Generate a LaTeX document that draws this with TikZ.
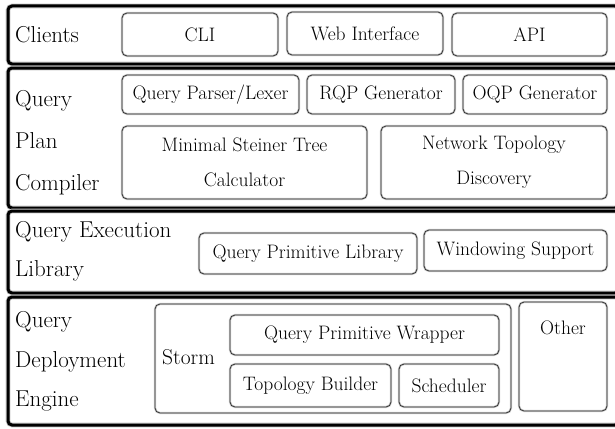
\documentclass[tikz,border=0pt]{standalone}
\begin{document}
\begin{tikzpicture}[x=1pt,y=-1pt,
  outer/.style={draw=black, line width=3pt, rounded corners=4pt, inner sep=0pt,
    preaction={draw=gray!45, line width=4.6pt}},
  ibox/.style={draw=black!80, line width=0.8pt, rounded corners=5pt, inner sep=0pt,
    align=center, font=\fontsize{19.5}{35}\selectfont,
    preaction={draw=gray!40, line width=2.2pt}},
  lab/.style={anchor=base west, inner sep=0pt, font=\fontsize{23}{41}\selectfont},
]
\newcommand\bx[7]{\node[#1, minimum width={(#5-#3)*1pt}, minimum height={(#6-#4)*1pt}] (#2) at ({(#3+#5)/2},{(#4+#6)/2}) {#7};}
\useasboundingbox (0,0) rectangle (615,428);
\clip (0,0) rectangle (615,428);
\fill[white] (0,0) rectangle (615,428);

% outer layers
\bx{outer}{clients}{8}{6}{619}{64}{}
\bx{outer}{qpc}{8}{68}{619}{208}{}
\bx{outer}{qel}{8}{211}{619}{293}{}
\bx{outer}{qde}{8}{297}{619}{425}{}

% labels
\node[lab] (lcl) at (15,43) {Clients};
\node[lab] (lq1) at (15,106) {Query};
\node[lab] (lq2) at (15,148) {Plan};
\node[lab] (lq3) at (15,190) {Compiler};
\node[lab] (le1) at (15,237) {Query Execution};
\node[lab] (le2) at (15,276) {Library};
\node[lab] (ld1) at (15,327) {Query};
\node[lab] (ld2) at (15,367) {Deployment};
\node[lab] (ld3) at (15,406) {Engine};

% clients
\bx{ibox}{cli}{122}{13}{278}{56}{CLI}
\bx{ibox}{web}{287}{12}{443}{55}{Web Interface}
\bx{ibox}{api}{452}{13}{607}{56}{API}

% query plan compiler
\bx{ibox}{qpl}{122}{75}{299}{114}{Query Parser/Lexer}
\bx{ibox}{rqp}{307}{75}{455}{114}{RQP Generator}
\bx{ibox}{oqp}{463}{75}{607}{114}{OQP Generator}
\bx{ibox}{mst}{122}{126}{367}{199}{Minimal Steiner Tree\\Calculator}
\bx{ibox}{ntd}{381}{126}{607}{199}{Network Topology\\Discovery}

% query execution library
\bx{ibox}{qplib}{199}{233}{417}{274}{Query Primitive Library}
\bx{ibox}{win}{424}{230}{607}{271}{Windowing Support}

% query deployment engine
\bx{ibox}{storm}{155}{304}{511}{413}{}
\node[lab, font=\fontsize{21.5}{24}\selectfont] (stormtxt) at (162,364) {Storm};
\bx{ibox}{qpw}{230}{315}{499}{355}{Query Primitive Wrapper}
\bx{ibox}{tb}{230}{364}{391}{407}{Topology Builder}
\bx{ibox}{sch}{399}{364}{499}{407}{Scheduler}
\bx{ibox}{other}{519}{302}{607}{411}{}
\node[anchor=base, inner sep=0pt, font=\fontsize{19.5}{22}\selectfont] (othertxt) at (563,334) {Other};
\end{tikzpicture}
\end{document}
